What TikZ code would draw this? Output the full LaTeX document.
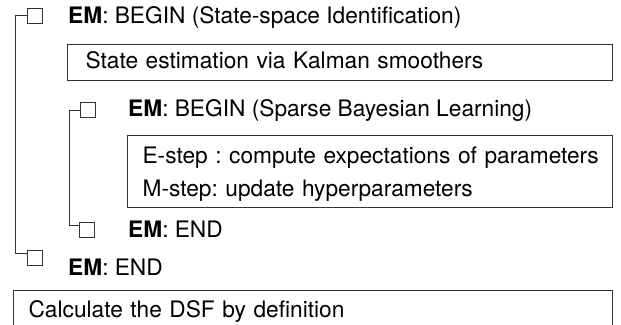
\documentclass[tikz,border=0pt]{standalone}
\usepackage{fontspec}
\setmainfont{TeX Gyre Heros}
\begin{document}
\frenchspacing
\begin{tikzpicture}[x=1pt, y=-1pt, font=\fontsize{22.7}{33.4}\selectfont]
% Styles
\tikzstyle{leaf} = [rectangle, draw=black!80, line width=1pt, minimum size=15pt, inner sep=0pt]
\tikzstyle{head} = [anchor=base west, inner sep=0pt]
\tikzstyle{task} = [rectangle, draw=black!80, line width=1.2pt, anchor=north west, align=left, inner ysep=0pt]
\tikzstyle{link} = [draw=black!80, line width=1pt]

\useasboundingbox (0,0) rectangle (621,324);
\clip (0,0) rectangle (621,324);

% Nodes
\node (em1) [leaf] at (34.5,15.5) {};
\node (em1t) [head] at (68,23.3) {\textbf{EM}: BEGIN (State-space Identification)};
\node (kal) [task, minimum width=545pt, minimum height=36pt, text width=509pt, inner xsep=18pt, text height=17pt, text depth=5pt] at (67,44) {State estimation via Kalman smoothers};

\node (em2) [leaf] at (87.5,110) {};
\node (em2t) [head] at (128,116.7) {\textbf{EM}: BEGIN (Sparse Bayesian Learning)};
\node (sbl) [task, minimum width=485pt, minimum height=72pt, text width=455pt, inner xsep=15pt, text height=22pt, text depth=38.2pt] at (127,135) {\mbox{E-step : compute expectations of parameters}\\M-step: update hyperparameters};

\node (em3) [leaf] at (87,229.5) {};
\node (em3t) [head] at (128,237.3) {\textbf{EM}: END};
\node (em4) [leaf] at (34.5,257.5) {};
\node (em4t) [head] at (68,275) {\textbf{EM}: END};

\node (dsf) [task, minimum width=599pt, minimum height=44pt, text width=569pt, inner xsep=15pt, text height=17pt, text depth=7pt] at (13,290) {Calculate the DSF by definition};

% Arrows
\draw [link] (em1.west) -- ++(-11,0) |- ([yshift=4.5pt]em4.west);
\draw [link] (em2.west) -- ++(-10,0) |- ([yshift=4pt]em3.west);

\end{tikzpicture}
\end{document}
